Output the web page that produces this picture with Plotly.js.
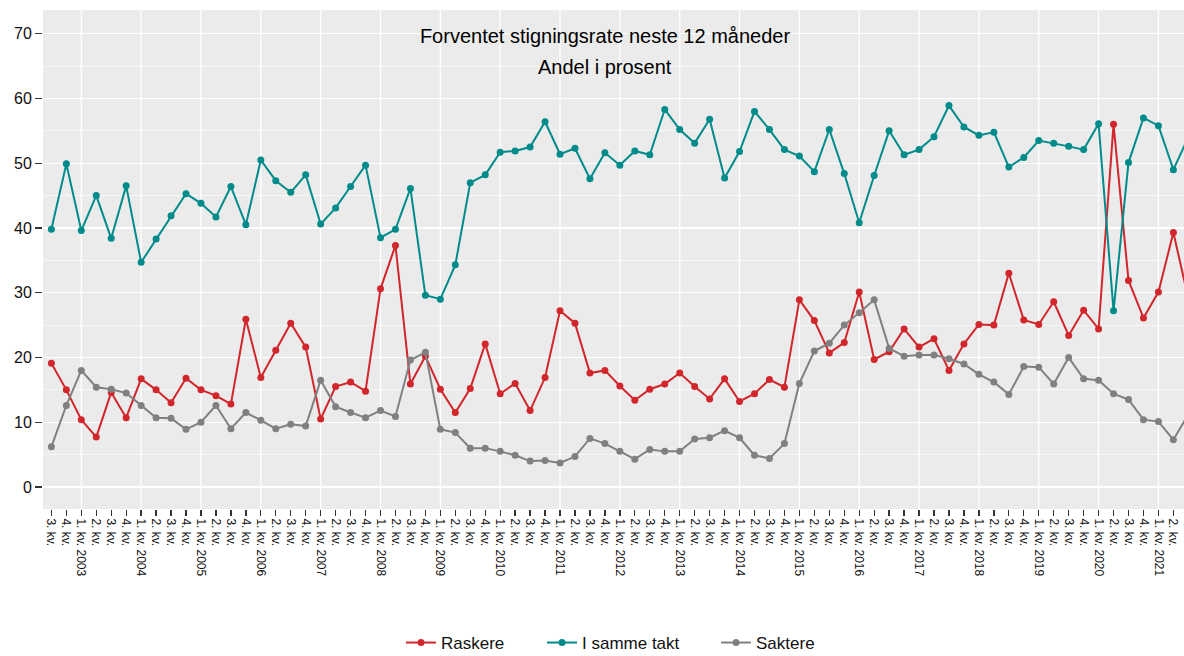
<!DOCTYPE html>
<html>
<head>
<meta charset="utf-8">
<script src="https://cdn.plot.ly/plotly-3.0.1.min.js"></script>
<style>html,body{margin:0;padding:0;background:#fff;}#chart{width:1184px;height:656px;}</style>
</head>
<body>
<div id="chart"></div>
<script>
const periods = [
  "2002K3","2002K4",
  "2003K1","2003K2","2003K3","2003K4",
  "2004K1","2004K2","2004K3","2004K4",
  "2005K1","2005K2","2005K3","2005K4",
  "2006K1","2006K2","2006K3","2006K4",
  "2007K1","2007K2","2007K3","2007K4",
  "2008K1","2008K2","2008K3","2008K4",
  "2009K1","2009K2","2009K3","2009K4",
  "2010K1","2010K2","2010K3","2010K4",
  "2011K1","2011K2","2011K3","2011K4",
  "2012K1","2012K2","2012K3","2012K4",
  "2013K1","2013K2","2013K3","2013K4",
  "2014K1","2014K2","2014K3","2014K4",
  "2015K1","2015K2","2015K3","2015K4",
  "2016K1","2016K2","2016K3","2016K4",
  "2017K1","2017K2","2017K3","2017K4",
  "2018K1","2018K2","2018K3","2018K4",
  "2019K1","2019K2","2019K3","2019K4",
  "2020K1","2020K2","2020K3","2020K4",
  "2021K1","2021K2","2021K3"
];

const raskere = [
  19.1,15.0,
  10.4,7.7,14.6,10.7,
  16.7,15.0,13.0,16.8,
  15.0,14.1,12.8,25.9,
  16.9,21.1,25.3,21.6,
  10.5,15.5,16.2,14.8,
  30.6,37.3,15.9,20.2,
  15.1,11.5,15.2,22.1,
  14.4,16.0,11.8,16.9,
  27.2,25.3,17.6,18.0,
  15.6,13.4,15.1,15.9,
  17.6,15.5,13.6,16.7,
  13.2,14.4,16.6,15.4,
  28.9,25.7,20.7,22.3,
  30.1,19.7,20.9,24.4,
  21.6,22.9,18.0,22.1,
  25.1,25.0,33.0,25.8,
  25.1,28.6,23.4,27.3,
  24.4,56.0,31.9,26.1,
  30.1,39.3,29.1
];

const samme = [
  39.8,49.9,
  39.6,45.0,38.4,46.5,
  34.7,38.3,41.9,45.3,
  43.8,41.7,46.4,40.5,
  50.5,47.3,45.5,48.2,
  40.6,43.1,46.4,49.7,
  38.5,39.8,46.1,29.6,
  29.0,34.3,47.0,48.2,
  51.7,51.9,52.5,56.4,
  51.4,52.3,47.6,51.6,
  49.7,51.9,51.3,58.3,
  55.2,53.1,56.8,47.7,
  51.8,58.0,55.2,52.1,
  51.1,48.7,55.2,48.4,
  40.8,48.1,55.0,51.3,
  52.1,54.1,58.9,55.6,
  54.3,54.8,49.4,50.9,
  53.5,53.1,52.6,52.1,
  56.1,27.2,50.1,57.0,
  55.8,49.0,54.0
];

const saktere = [
  6.2,12.6,
  18.0,15.4,15.1,14.5,
  12.6,10.7,10.6,8.9,
  10.0,12.6,9.0,11.5,
  10.3,9.0,9.7,9.4,
  16.5,12.4,11.5,10.7,
  11.8,10.9,19.6,20.8,
  8.9,8.4,6.0,6.0,
  5.5,4.9,4.0,4.1,
  3.7,4.7,7.5,6.7,
  5.5,4.3,5.8,5.5,
  5.5,7.4,7.6,8.7,
  7.6,4.9,4.4,6.7,
  16.0,21.0,22.2,25.0,
  26.9,28.9,21.4,20.2,
  20.4,20.4,19.8,19.0,
  17.4,16.2,14.3,18.6,
  18.5,15.9,20.0,16.7,
  16.5,14.4,13.5,10.4,
  10.1,7.3,11.2
];

const seriesNames = ["Raskere", "I samme takt", "Saktere"];
const seriesColors = ["#d1262b", "#008b8b", "#808080"];
const yTicks = [0, 10, 20, 30, 40, 50, 60, 70];
const titleText = "Forventet stigningsrate neste 12 måneder";
const subtitleText = "Andel i prosent";

const xIdx = periods.map((p, i) => i);
const tickText = periods.map(p => {
  const y = p.slice(0, 4), q = p.slice(5);
  return q === "1" ? "1. kv. " + y : q + ". kv.";
});
const yearIdx = xIdx.filter(i => periods[i].slice(5) === "1");

const legendIds = ["legend", "legend2", "legend3"];
const legendX = [401, 542, 716];

const traces = [raskere, samme, saktere].map((vals, k) => ({
  type: "scatter",
  mode: "lines+markers",
  name: seriesNames[k],
  legend: legendIds[k],
  x: xIdx,
  y: vals,
  line: {color: seriesColors[k], width: 2},
  marker: {color: seriesColors[k], size: 7}
}));

const shapes = yearIdx.map(i => ({
  type: "line", xref: "x", yref: "paper",
  x0: i, x1: i, y0: 0, y1: 1,
  line: {color: "#ffffff", width: 1.3},
  layer: "below"
}));

const layout = {
  width: 1184, height: 656,
  margin: {l: 43, r: 0, t: 10, b: 147},
  paper_bgcolor: "#ffffff",
  plot_bgcolor: "#ebebeb",
  font: {family: "Liberation Sans, Arial, sans-serif", color: "#111"},
  title: {
    text: titleText,
    font: {size: 20, color: "#000"},
    x: 605 / 1184, xanchor: "center", xref: "container",
    y: 1 - 36 / 656, yanchor: "middle", yref: "container"
  },
  annotations: [{
    text: subtitleText,
    font: {size: 20, color: "#000"},
    xref: "paper", yref: "paper",
    x: (605 - 43) / 1141, y: (509 - 67) / 499,
    xanchor: "center", yanchor: "middle",
    showarrow: false
  }],
  xaxis: {
    range: [-0.56, 75.71],
    tickmode: "array",
    tickvals: xIdx,
    ticktext: tickText,
    tickangle: 90,
    tickfont: {size: 12, color: "#111"},
    ticks: "outside", ticklen: 6, tickwidth: 1.3, tickcolor: "#333",
    showgrid: false, zeroline: false, showline: false,
    fixedrange: true
  },
  yaxis: {
    range: [-3.4, 73.66],
    tickmode: "array",
    tickvals: yTicks,
    tickfont: {size: 16, color: "#111"},
    ticks: "outside", ticklen: 7, tickwidth: 1.3, tickcolor: "#333",
    showgrid: true, gridcolor: "#ffffff", gridwidth: 1.3,
    minor: {dtick: 5, tick0: 0, showgrid: true, gridcolor: "#ffffff", gridwidth: 0.6, ticks: ""},
    zeroline: false, showline: false,
    fixedrange: true
  },
  shapes: shapes,
  showlegend: true
};

legendIds.forEach((id, k) => {
  layout[id] = {
    orientation: "h",
    x: legendX[k] / 1184, xanchor: "left", xref: "container",
    y: 1 - 643 / 656, yanchor: "middle", yref: "container",
    font: {size: 17, color: "#111"},
    bgcolor: "rgba(0,0,0,0)"
  };
});

Plotly.newPlot("chart", traces, layout, {displayModeBar: false, staticPlot: true});
</script>
</body>
</html>
